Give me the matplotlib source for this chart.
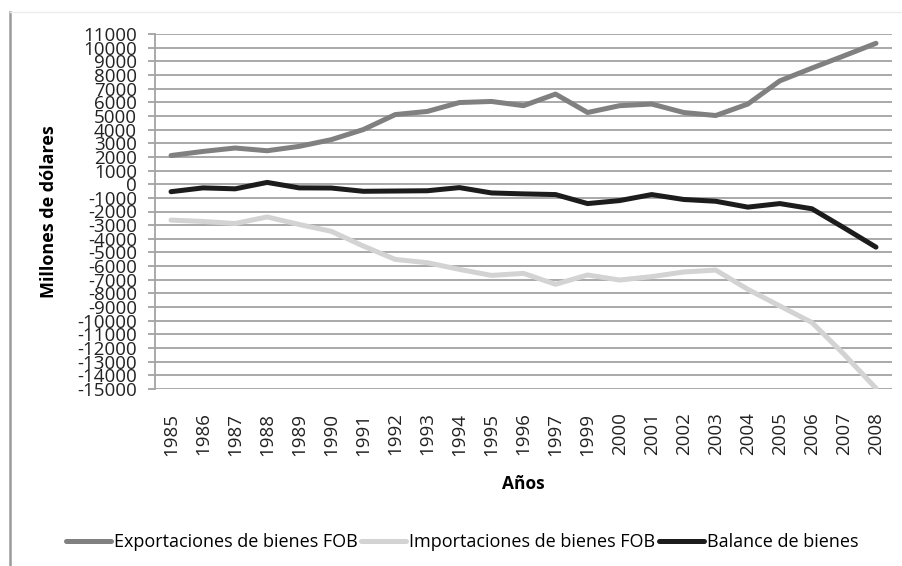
import matplotlib
matplotlib.use("Agg")
import matplotlib.pyplot as plt
from matplotlib.lines import Line2D

plt.rcParams["font.family"] = ["Open Sans", "DejaVu Sans"]

# ------------------------------------------------------------------
# data (millones de dólares)
# ------------------------------------------------------------------
years = ["1985", "1986", "1987", "1988", "1989", "1990", "1991", "1992",
         "1993", "1994", "1995", "1996", "1997", "1999", "2000", "2001",
         "2002", "2003", "2004", "2005", "2006", "2007", "2008"]

exportaciones = [2100, 2400, 2650, 2450, 2770, 3260, 4000, 5100,
                 5330, 5980, 6060, 5750, 6600, 5250, 5750, 5870,
                 5250, 5030, 5870, 7570, 8500, 9400, 10320]

importaciones = [-2630, -2730, -2880, -2400, -2950, -3450, -4530, -5510,
                 -5750, -6240, -6680, -6530, -7330, -6650, -7020, -6770,
                 -6430, -6290, -7700, -8920, -10130, -12450, -14950]

balance = [-550, -270, -340, 130, -270, -280, -520, -500,
           -480, -250, -640, -710, -760, -1420, -1200, -760,
           -1120, -1250, -1680, -1420, -1800, -3190, -4610]

y_ticks = list(range(-15000, 11001, 1000))

# ------------------------------------------------------------------
W, H = 902, 566
fig = plt.figure(figsize=(W / 100, H / 100), dpi=100)
ax = fig.add_axes([155 / W, 177 / H, 737 / W, 355 / H])

xs = range(len(years))
ax.plot(xs, exportaciones, color="#808080", linewidth=3.6,
        solid_capstyle="round", label="Exportaciones de bienes FOB", zorder=3)
ax.plot(xs, importaciones, color="#d3d3d3", linewidth=3.6,
        solid_capstyle="round", label="Importaciones de bienes FOB", zorder=3)
ax.plot(xs, balance, color="#1c1c1c", linewidth=3.6,
        solid_capstyle="round", label="Balance de bienes", zorder=3)

ax.set_xlim(-0.5, len(years) - 0.5)
ax.set_ylim(-15000, 11000)
ax.set_yticks(y_ticks)
ax.set_yticklabels([str(v) for v in y_ticks], fontsize=13.5)
ax.set_xticks(list(xs))
ax.set_xticklabels(years, rotation=90, fontsize=13.5)

ax.grid(True, axis="y", color="#a3a3a3", linewidth=1.3)
ax.set_axisbelow(True)
for side in ("top", "right", "bottom"):
    ax.spines[side].set_visible(False)
ax.spines["left"].set_color("#a3a3a3")
ax.spines["left"].set_linewidth(1.3)
ax.tick_params(axis="y", length=5, width=1.3, color="#a3a3a3", pad=8,
               labelcolor="#222222")
ax.tick_params(axis="x", length=0, pad=17, labelcolor="#222222")

ax.set_xlabel("Años", fontsize=12.5, fontweight="bold", labelpad=14)
ax.set_ylabel("Millones de dólares", fontsize=13, fontweight="bold",
              labelpad=14)

fig.legend(loc="center", bbox_to_anchor=(462 / W, 24 / H), ncol=3,
           frameon=False, fontsize=13, handlelength=2.5,
           handletextpad=0.15, columnspacing=0.2)

# frame remnants of the page
fig.add_artist(Line2D([10 / W, 10 / W], [0, 1 - 12 / H],
                      transform=fig.transFigure, color="#9a9a9a",
                      linewidth=1.8))
fig.add_artist(Line2D([10 / W, 1], [1 - 12 / H, 1 - 12 / H],
                      transform=fig.transFigure, color="#ececec",
                      linewidth=1.0))

fig.savefig("out.png", dpi=100, facecolor="white")
